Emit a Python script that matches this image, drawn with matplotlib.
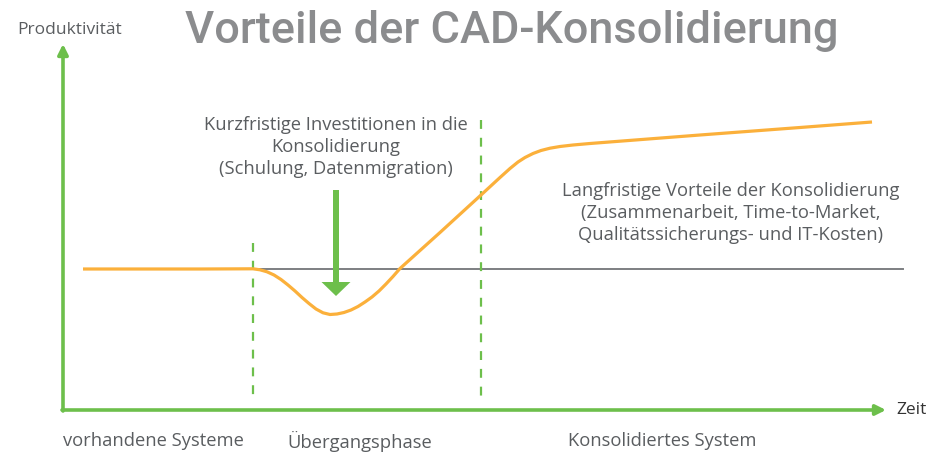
import matplotlib
matplotlib.use("Agg")
import matplotlib.pyplot as plt
from matplotlib.patches import FancyArrow

# Diagram coordinates follow the picture: x to the right, y downwards
curve_x = [83, 200, 253, 260, 267, 274, 281, 288, 295, 302, 309, 316, 323, 330, 337, 344, 351,
           358, 365, 372, 379, 386, 393, 400, 410, 420, 440, 481, 500, 510, 518, 525, 533, 541,
           550, 560, 573, 590, 700, 800, 872]
curve_y = [269, 269, 268.8, 269.8, 271.8, 275, 279.5, 285, 291, 297.5, 303.5, 309, 312.8, 314.5,
           314, 312.5, 310, 306.5, 302, 297, 291, 284, 276.5, 268.5, 259.5, 250.5, 232.5, 195,
           177.5, 168.5, 162, 157.5, 153.5, 150.5, 148.2, 146.5, 145, 143.5, 135, 127.5, 122]

baseline_y = 269
phase_x = [253, 481]
phase_top = [243, 120]

title = "Vorteile der CAD-Konsolidierung"
y_label = "Produktivität"
x_label = "Zeit"
phase_labels = ["vorhandene Systeme", "Übergangsphase", "Konsolidiertes System"]
phase_label_x = [63, 287, 568]
short_note = "Kurzfristige Investitionen in die\nKonsolidierung\n(Schulung, Datenmigration)"
long_note = "Langfristige Vorteile der Konsolidierung\n(Zusammenarbeit, Time-to-Market,\nQualitätssicherungs- und IT-Kosten)"

green = "#6dbf4b"
orange = "#fbb03b"
gray_line = "#7d7f82"
text_gray = "#5a5d60"
title_gray = "#8b8c8e"
body_font = "Open Sans"

fig = plt.figure(figsize=(9.45, 4.53), dpi=100)
ax = fig.add_axes([0, 0, 1, 1])
ax.set_xlim(0, 945)
ax.set_ylim(453, 0)
ax.axis("off")

# axes arrows
ax.annotate("", xy=(63, 44), xytext=(63, 411),
            arrowprops=dict(arrowstyle="-|>,head_length=0.6,head_width=0.3",
                            color=green, lw=2.6, shrinkA=0, shrinkB=0))
ax.annotate("", xy=(886, 410), xytext=(62, 410),
            arrowprops=dict(arrowstyle="-|>,head_length=0.6,head_width=0.3",
                            color=green, lw=2.6, shrinkA=0, shrinkB=0))

# baseline and phase borders
ax.plot([255, 903], [baseline_y, baseline_y], color=gray_line, lw=1.4, zorder=2)
for px, top in zip(phase_x, phase_top):
    ax.plot([px, px], [top, 396], color=green, lw=1.6, ls=(0, (4, 4)), zorder=2)

# productivity curve
ax.plot(curve_x, curve_y, color=orange, lw=2.3, solid_capstyle="butt",
        solid_joinstyle="round", zorder=3)

# investment arrow
ax.add_patch(FancyArrow(336, 190, 0, 106, width=6, head_width=29,
                        head_length=14, length_includes_head=True,
                        color=green, lw=0, zorder=4))

# texts
ax.text(512, 31, title, ha="center", va="center", fontsize=32.5,
        fontweight="medium", family="Roboto", color=title_gray)
ax.text(17, 30, y_label, ha="left", va="center", fontsize=12.5,
        family=body_font, color=text_gray)
ax.text(896, 410, x_label, ha="left", va="center", fontsize=12.5,
        family=body_font, color="#333333")
for lab, lx in zip(phase_labels, phase_label_x):
    ax.text(lx, 441, lab, ha="left", va="center", fontsize=13.2,
            family=body_font, color=text_gray)
ax.text(336, 147, short_note, ha="center", va="center", fontsize=13.2,
        family=body_font, color=text_gray, linespacing=1.3)
ax.text(731, 213, long_note, ha="center", va="center", fontsize=13.2,
        family=body_font, color=text_gray, linespacing=1.3)

fig.savefig("out.png", dpi=100)
